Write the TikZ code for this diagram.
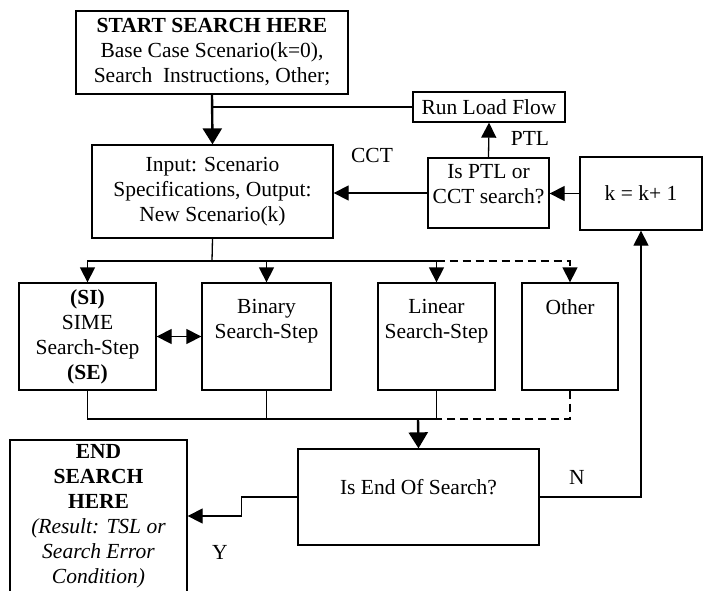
\documentclass[tikz,border=0pt]{standalone}
\usepackage{fontspec}
\setmainfont{Liberation Serif}
\usetikzlibrary{arrows.meta,positioning,calc}

\begin{document}
\begin{tikzpicture}[x=1pt, y=-1pt, line width=1.3pt,
  every node/.style={font=\fontsize{21.5}{25}\selectfont},
  box/.style={draw, rectangle, align=center, inner sep=2pt},
  arr/.style={-{Triangle[length=15pt,width=15pt]}},
  heavy/.style={line width=2.4pt, -{Triangle[length=16pt,width=19pt]}},
  dashline/.style={dash pattern=on 8pt off 5pt}]
  \clip (0,0) rectangle (709,590);
  % main flow boxes
  \node[box, minimum width=272pt, minimum height=83pt] (start) at (212,52.5)
    {\textbf{START SEARCH HERE}\\Base Case Scenario(k=0),\\Search\ \ Instructions, Other;};
  \node[box, minimum width=241pt, minimum height=93pt] (input) at (212.5,191.5)
    {Input: Scenario\\Specifications, Output:\\New Scenario(k)};
  \node[box, minimum width=152pt, minimum height=30pt] (run) at (489,107) {Run Load Flow};
  \node[box, minimum width=121pt, minimum height=70pt,
    label={[align=center, yshift=9pt]center:Is PTL or\\CCT search?}] (ptl) at (488.5,193) {};
  \node[box, minimum width=122pt, minimum height=73pt] (kinc) at (641,193.5) {k = k+ 1};
  % search steps
  \node[box, minimum width=137pt, minimum height=107pt] (sime) at (87.5,336.5)
    {\textbf{(SI)}\\SIME\\Search-Step\\\textbf{(SE)}};
  \foreach \nm/\cx/\bw/\txt in {bin/266.5/129/{Binary\\Search-Step},
                               lin/436.5/117/{Linear\\Search-Step},
                               oth/570/96/{Other}}{
    \node[box, minimum width=\bw pt, minimum height=107pt,
      label={[anchor=north, align=center, yshift=-13pt]north:\txt}] (\nm) at (\cx,336.5) {};
  }
  \node[box, minimum width=241pt, minimum height=96pt,
    label={[yshift=10pt]center:Is End Of Search?}] (isend) at (418.5,497) {};
  \node[box, minimum width=177pt, minimum height=152pt] (endbox) at (98.5,516)
    {\textbf{END}\\\textbf{SEARCH}\\\textbf{HERE}\\\textit{(Result: TSL or}\\\textit{Search Error}\\\textit{Condition)}};
  % branch and merge points
  \coordinate (split) at (212,261);
  \coordinate (merge) at (418,419);
  % connectors
  \draw[heavy] (start.south) -- (input.north);
  \draw (start.south |- run.west) -- (run.west);
  \draw[arr] (ptl.north) -- (run.south);
  \draw[arr] (ptl.west) -- (ptl.west -| input.east);
  \draw[arr] (kinc.west) -- (kinc.west -| ptl.east);
  \draw (input.south) -- (split);
  \foreach \nm in {sime,bin,lin}{
    \draw[arr] (split) -| (\nm.north);
  }
  \draw[arr, dashline] (lin.north |- split) -| (oth.north);
  \draw[{Triangle[length=15pt,width=15pt]}-{Triangle[length=15pt,width=15pt]}] (sime.east) -- (sime.east -| bin.west);
  \draw (sime.south) |- (lin.south |- merge) -- (lin.south);
  \draw (bin.south) -- (bin.south |- merge);
  \draw[dashline] (oth.south) |- (merge);
  \draw[heavy] (merge) -- (isend.north);
  \draw[arr] (isend.east) -| (kinc.south);
  \draw[arr] (isend.west) -- ++(-56,0) |- (endbox.east);
  % branch labels
  \node (ptllbl) at (530,138) {PTL};
  \node (cctlbl) at (372,155) {CCT};
  \node (nlbl) at (577,477) {N};
  \node (ylbl) at (220,552) {Y};
\end{tikzpicture}
\end{document}
